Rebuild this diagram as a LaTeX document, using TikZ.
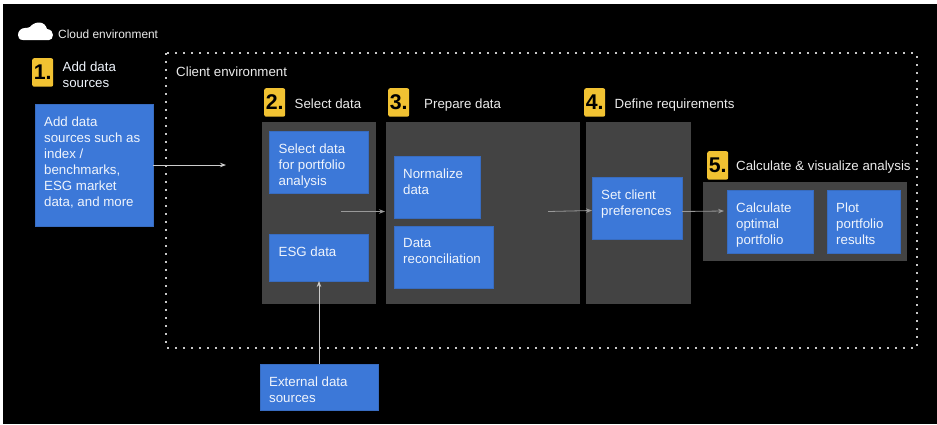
\documentclass[tikz,border=0pt]{standalone}
\usepackage{fontspec}
\setmainfont{Liberation Sans}
\usetikzlibrary{arrows.meta,calc}

\begin{document}
\begin{tikzpicture}[x=1pt,y=-1pt,line cap=butt,line join=miter]
  % ----- styles & colors -----
    \definecolor{panelfill}{RGB}{67,67,67}      % dark gray
    \definecolor{boxfill}{RGB}{60,120,216}      % blue
    \definecolor{boxline}{RGB}{56,108,192}      % darker blue
    \definecolor{badgefill}{RGB}{241,194,50}    % yellow
    \definecolor{dotline}{RGB}{200,200,200}     % light gray
  \tikzset{
    panel/.style={fill=panelfill,inner sep=0pt,anchor=north west},
    databox/.style={fill=boxfill,draw=boxline,line width=0.4pt,inner sep=0pt,outer sep=0pt,anchor=north west},
    boxtext/.style={text=white!92!boxfill,anchor=north west,inner sep=0pt,align=left,
      font=\fontsize{13.3}{16}\selectfont},
    badge/.style={fill=badgefill,rounded corners=2pt,inner sep=0pt,anchor=north west,
      minimum width=21pt,minimum height=28.5pt,font=\fontsize{21.3}{24}\bfseries\selectfont},
    heading/.style={text=white!92!black,anchor=base west,inner sep=0pt,
      font=\fontsize{13.3}{16}\selectfont},
    arr_light/.style={draw=white!80!black,line width=0.8pt,-{Stealth[length=6pt,width=4.5pt]}},
    arr_dim/.style={draw=white!60!black,line width=0.8pt,-{Stealth[length=6pt,width=4.5pt]}}
  }

  % ----- canvas -----
  \useasboundingbox (0,0) rectangle (937,424);
  \fill[white] (0,0) rectangle (937,424);
  \fill[black] (3,4) rectangle (937,424);

  % ----- cloud -----
  \fill[white] (23,40) .. controls (19,40) and (18,37) .. (18,35)
    .. controls (18,31) and (21,28) .. (25,28)
    .. controls (27,28) and (29,27.5) .. (30,27)
    .. controls (32,24) and (36,22.5) .. (39,22.5)
    .. controls (43,22.5) and (46,25) .. (47,29)
    .. controls (51,29.5) and (53,32) .. (53,35)
    .. controls (53,38) and (51,40) .. (49,40) -- cycle;
  \node[heading,font=\fontsize{11.9}{14}\selectfont] (cloud_label) at (58,38) {Cloud environment};

  % client environment
  \draw[dotline,line width=2pt,dash pattern=on 2pt off 6pt] (166,53) rectangle (916.5,348);
  \node[heading] (client_label) at (176,76) {Client environment};

  % ----- dark panels -----
  \foreach \n/\x/\y/\w/\h in {P2/262/122/114/182,P3/386/122/194/182,P4/586/122/105/182,P5/703/182/204/79}{
    \node[panel,minimum width=\w pt,minimum height=\h pt] (\n) at (\x,\y) {};
  }

  % ----- numbered steps -----
  \foreach \n/\x/\y/\t in {N1/32/58/1.,N2/264/88/2.,N3/388/88/3.,N4/584/88/4.,N5/707/151/5.}{
    \node[badge] (\n) at (\x,\y) {\t};
  }
  \node[boxtext] (H1) at (62.5,62) {Add data\\sources};
  \node[heading] (H2) at (294.5,108) {Select data};
  \node[heading] (H3) at (424,108) {Prepare data};
  \node[heading] (H4) at (614.5,108) {Define requirements};
  \node[heading] (H5) at (736,170) {Calculate \& visualize analysis};

  % ----- blue boxes -----
  \foreach \n/\x/\y/\w/\h/\t in {
    B1/35/104/118/122/{Add data\\sources such as\\index /\\benchmarks,\\ESG market\\data, and more},
    B2/269.5/131/99/62/{Select data\\for portfolio\\analysis},
    B3/269.5/234/99/47/{ESG data},
    B4/394/156/86/62/{Normalize\\data},
    B5/394/226/99/62.5/{Data\\reconciliation},
    B6/592/177/90/62/{Set client\\preferences},
    B7/727/190/86/63/{Calculate\\optimal\\portfolio},
    B8/827/190/73/63/{Plot\\portfolio\\results},
    B9/260/364/118/46/{External data\\sources}}{
    \node[databox,minimum width=\w pt,minimum height=\h pt] (\n) at (\x,\y) {};
    \node[boxtext] (T\n) at ($(\n.north west)+(9,12.3)$) {\t};
  }

  % ----- arrow ends -----
  \coordinate (A1) at (226,165);
  \coordinate (A2a) at (341,211.5);
  \coordinate (A2b) at (385,211.5);
  \coordinate (A3a) at (548,211.5);
  \coordinate (A3b) at (592,210.5);
  \coordinate (A4a) at (682,211.5);
  \coordinate (A4b) at (724,211);

  \draw[arr_light] (B1.east) -- (A1);
  \draw[arr_dim] (A2a) -- (A2b);
  \draw[arr_dim] (A3a) -- (A3b);
  \draw[arr_dim] (A4a) -- (A4b);
  \draw[arr_light] (B9.north) -- (B3.south);

\end{tikzpicture}
\end{document}
